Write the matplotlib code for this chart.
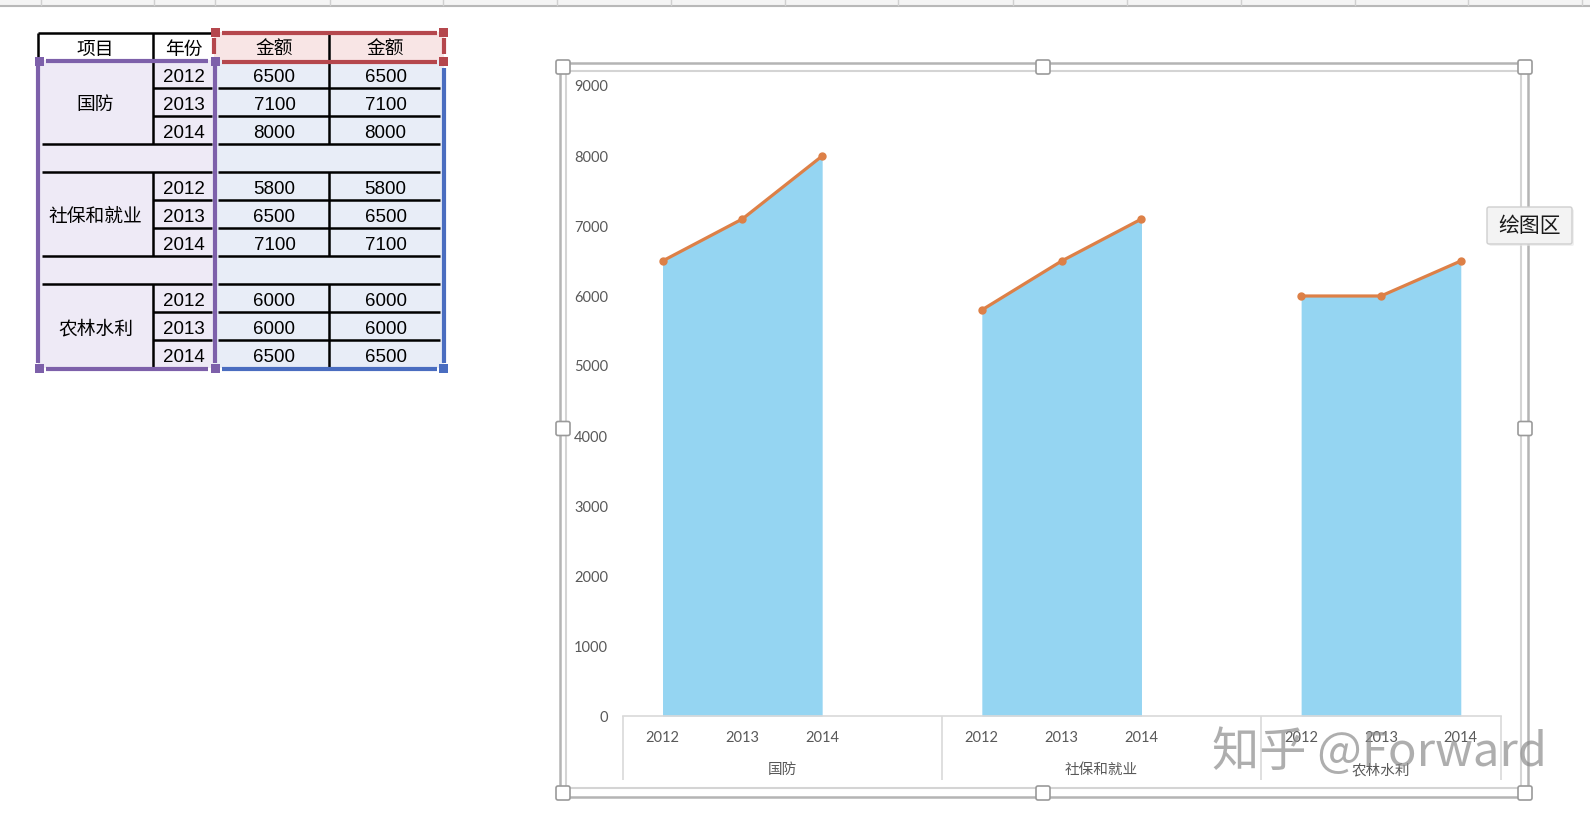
import matplotlib.pyplot as plt
from matplotlib.patches import Rectangle, FancyBboxPatch
from matplotlib.transforms import blended_transform_factory

# data
categories = ["国防", "社保和就业", "农林水利"]
years = ["2012", "2013", "2014"]
defense = [6500, 7100, 8000]
social = [5800, 6500, 7100]
farming = [6000, 6000, 6500]
series = [defense, social, farming]
y_ticks = list(range(0, 9001, 1000))

CJK = "Noto Sans CJK SC"
TABLE_FONT = ["Liberation Sans", CJK]
CHART_FONT = ["Lato", CJK]

AREA = "#95D5F2"
LINE = "#DD8047"
TXT = "#595959"
PURPLE = "#7D60AA"
RED = "#B5474D"
BLUE = "#4A6DC0"

fig = plt.figure(figsize=(15.9, 8.18), dpi=100)
fig.patch.set_facecolor("white")

# background axes in screen pixels (y down)
bg = fig.add_axes([0, 0, 1, 1], zorder=0)
bg.set_xlim(0, 1590)
bg.set_ylim(818, 0)
bg.axis("off")

# spreadsheet column strip at top
bg.add_patch(Rectangle((0, 0), 1590, 5, fc="#F4F4F4", ec="none"))
bg.plot([0, 1590], [5.5, 5.5], color="#B8B8B8", lw=1.5)
for sx in [40.6, 154, 215, 329.6, 443, 556.7, 671, 785, 898, 1013, 1126.6, 1241, 1354.7, 1468, 1582]:
    bg.plot([sx, sx], [0, 5], color="#D0D0D0", lw=1)

# ---- table ----
row_h = 28
top_hdr, hdr_bot = 33, 60
x_cat, x_year, x_sel, x_d0, x_d1, x_d2 = 38, 153, 214, 218, 329, 440
ty = 3.5  # text baseline nudge
rows = []
for gi, cat in enumerate(categories):
    for yi, yr in enumerate(years):
        rows.append((cat, yr, series[gi][yi]))
    if gi < len(categories) - 1:
        rows.append(None)
n_rows = len(rows)
y_bot = hdr_bot + row_h * n_rows

bg.add_patch(Rectangle((x_cat, hdr_bot), x_sel - x_cat, y_bot - hdr_bot, fc="#EEEAF6", ec="none"))
bg.add_patch(Rectangle((x_sel, hdr_bot), 444 - x_sel, y_bot - hdr_bot, fc="#E8EDF7", ec="none"))
bg.add_patch(Rectangle((x_sel, 32), 444 - x_sel, hdr_bot - 32, fc="#F8E5E5", ec="none"))

lk = dict(color="black", lw=1.8, solid_capstyle="butt")
tk = dict(ha="center", va="center", fontsize=13.5, family=TABLE_FONT)
bg.plot([x_cat, x_sel], [top_hdr, top_hdr], **lk)
bg.plot([x_cat, x_cat], [top_hdr, hdr_bot], **lk)
bg.plot([x_year, x_year], [top_hdr, hdr_bot], **lk)
bg.plot([x_d1, x_d1], [top_hdr, hdr_bot], **lk)
bg.text((x_cat + x_year) / 2, 46.5 + ty, "项目", **tk)
bg.text((x_year + x_sel) / 2, 46.5 + ty, "年份", **tk)
bg.text((x_d0 + x_d1) / 2 + 1, 46.5 + ty, "金额", **tk)
bg.text((x_d1 + x_d2) / 2 + 1, 46.5 + ty, "金额", **tk)

i = 0
while i < n_rows:
    r = rows[i]
    y0 = hdr_bot + row_h * i
    if r is None:
        bg.plot([x_cat + 4, x_sel - 2], [y0 + row_h, y0 + row_h], **lk)
        bg.plot([x_d0, x_d2], [y0 + row_h, y0 + row_h], **lk)
        i += 1
        continue
    # group block of 3 rows
    block = rows[i:i + 3]
    yb = y0 + row_h * 3
    bg.text((x_cat + x_year) / 2, y0 + row_h * 1.5 + ty, block[0][0], **tk)
    bg.plot([x_year, x_year], [y0, yb], **lk)
    bg.plot([x_d1, x_d1], [y0, yb], **lk)
    for k, (cat, yr, val) in enumerate(block):
        yc = y0 + row_h * (k + 0.5) + ty
        bg.text((x_year + x_sel) / 2, yc, yr, **tk)
        bg.text((x_d0 + x_d1) / 2 + 1, yc, str(val), **tk)
        bg.text((x_d1 + x_d2) / 2 + 1, yc, str(val), **tk)
        if k < 2:
            bg.plot([x_year, x_sel - 2], [y0 + row_h * (k + 1)] * 2, **lk)
            bg.plot([x_d0, x_d2], [y0 + row_h * (k + 1)] * 2, **lk)
        elif yb < y_bot:
            bg.plot([x_cat + 4, x_sel - 2], [yb, yb], **lk)
            bg.plot([x_d0, x_d2], [yb, yb], **lk)
    i += 3

# selection frames
sk = dict(lw=3, solid_capstyle="butt")
bg.plot([38, 38], [66, 363], color=PURPLE, **sk)
bg.plot([215, 215], [66, 363], color=PURPLE, **sk)
bg.plot([46, 208], [61, 61], color=PURPLE, **sk)
bg.plot([46, 208], [369, 369], color=PURPLE, **sk)
bg.plot([222, 437], [32.5, 32.5], color=RED, **sk)
bg.plot([222, 437], [61.5, 61.5], color=RED, **sk)
bg.plot([214, 214], [38, 54], color=RED, **sk)
bg.plot([444, 444], [38, 54], color=RED, **sk)
bg.plot([444, 444], [68, 363], color=BLUE, **sk)
bg.plot([222, 437], [369, 369], color=BLUE, **sk)
for (hx, hy, hc) in [(215, 32, RED), (443, 32, RED), (443, 61, RED),
                     (39, 61, PURPLE), (215, 61, PURPLE), (39, 368, PURPLE),
                     (215, 368, PURPLE), (443, 368, BLUE)]:
    bg.add_patch(Rectangle((hx - 4.5, hy - 4.5), 9, 9, fc=hc, ec="none", zorder=5))

# chart frame and handles
bg.add_patch(Rectangle((560, 63), 1528 - 560, 797 - 63, fc="white", ec="#B4B4B4", lw=1.8))
bg.add_patch(Rectangle((566, 71), 1521 - 566, 788 - 71, fc="none", ec="#D4D4D4", lw=1.5))
for hx in [563, 1043, 1525]:
    for hy in [67, 428.5, 793]:
        if hx == 1043 and hy == 428.5:
            continue
        bg.add_patch(FancyBboxPatch((hx - 7, hy - 7), 14, 14, boxstyle="round,pad=0,rounding_size=2",
                                    fc="white", ec="#9A9A9A", lw=1.2, zorder=6))

# ---- chart ----
px_left, px_right, px_top, px_zero = 622.6, 1500.7, 86, 716
ax = fig.add_axes([px_left / 1590, (818 - px_zero) / 818,
                   (px_right - px_left) / 1590, (px_zero - px_top) / 818], zorder=2)
ax.patch.set_alpha(0)

group_x = []
for gi, vals in enumerate(series):
    xs = [4 * gi + k for k in range(len(vals))]
    group_x.append(xs)
    ax.fill_between(xs, 0, vals, color=AREA, lw=0, zorder=1)
    ax.plot(xs, vals, color=LINE, lw=2.3, marker="o", markersize=5, zorder=3)

ax.set_xlim(-0.5, 10.5)
ax.set_ylim(0, 9000)
ax.set_yticks(y_ticks)
ax.set_yticklabels([str(v) for v in y_ticks], color=TXT, fontsize=10.5, family=CHART_FONT)
tick_x = [x for xs in group_x for x in xs]
ax.set_xticks(tick_x)
ax.set_xticklabels(years * len(categories), color=TXT, fontsize=10.5, family=CHART_FONT)
ax.tick_params(axis="y", length=0, pad=10.5)
ax.tick_params(axis="x", length=0, pad=10.5)
for s in ["top", "right", "left"]:
    ax.spines[s].set_visible(False)
ax.spines["bottom"].set_color("#D9D9D9")
ax.spines["bottom"].set_linewidth(1.2)

# multi-level category axis
tr = blended_transform_factory(ax.transData, bg.transData)
bounds = [xs[0] - 0.5 for xs in group_x] + [10.5]
ax.vlines(bounds, px_zero, 780, transform=tr, color="#D9D9D9", lw=1.2, clip_on=False)
for gi, cat in enumerate(categories):
    ax.text((bounds[gi] + bounds[gi + 1]) / 2, 770, cat, transform=tr, ha="center", va="center",
            color=TXT, fontsize=10.5, family=CHART_FONT)

# tooltip
bg.add_patch(FancyBboxPatch((1489, 209), 85, 37, boxstyle="round,pad=0,rounding_size=2",
                            fc="#E6E6E6", ec="none", alpha=0.6, zorder=7))
bg.add_patch(FancyBboxPatch((1487, 207), 85, 37, boxstyle="round,pad=0,rounding_size=2",
                            fc="#F3F3F3", ec="#CFCFCF", lw=1, zorder=8))
bg.text(1529.5, 226, "绘图区", ha="center", va="center", fontsize=15, family=[CJK], color="#1A1A1A", zorder=9)

# watermark
fig.text(1212 / 1590, 1 - 753 / 818, "知乎 @Forward", ha="left", va="center", fontsize=34,
         family=[CJK, "DejaVu Sans"], color="#8C8C8C", alpha=0.7, zorder=10)

fig.savefig("out.png", dpi=100, facecolor="white")
